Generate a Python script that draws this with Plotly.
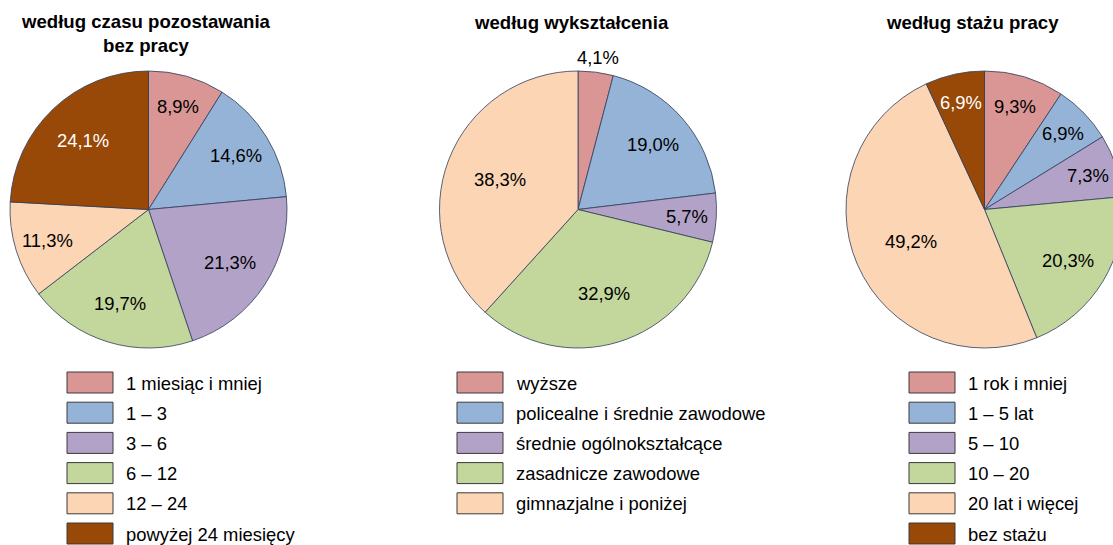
import math
import plotly.graph_objects as go

# ---------------- data ----------------
time_labels = ["1 miesiąc i mniej", "1 – 3", "3 – 6", "6 – 12", "12 – 24", "powyżej 24 miesięcy"]
time_values = [8.9, 14.6, 21.3, 19.7, 11.3, 24.1]

edu_labels = ["wyższe", "policealne i średnie zawodowe", "średnie ogólnokształcące",
              "zasadnicze zawodowe", "gimnazjalne i poniżej"]
edu_values = [4.1, 19.0, 5.7, 32.9, 38.3]

tenure_labels = ["1 rok i mniej", "1 – 5 lat", "5 – 10", "10 – 20", "20 lat i więcej", "bez stażu"]
tenure_values = [9.3, 6.9, 7.3, 20.3, 49.2, 6.9]

titles = ["według czasu pozostawania<br>bez pracy", "według wykształcenia", "według stażu pracy"]

# ---------------- style ----------------
colors = ["#D99694", "#95B3D7", "#B3A2C7", "#C3D69B", "#FCD5B5", "#984807"]
text_colors = ["#000000"] * 5 + ["#FFFFFF"]
FONT = "Arial, 'Liberation Sans', sans-serif"
FS = 18.4
FS_TITLE = 18.6
W, H = 1130, 545
R = 138.5
centers = [(148.5, 209.5), (578.0, 209.5), (984.5, 209.5)]
title_pos = [(146, 33.5), (571, 22), (972, 22)]
legend_x = [67, 457, 909]
SW_W, SW_H, ROW0, ROW_STEP = 46, 21, 372, 30.2


def px(x):
    return x / W


def py(y):
    return 1 - y / H


def fmt(v):
    return f"{v:.1f}".replace(".", ",") + "%"


def label_frac(share):
    if share < 0.05:
        return 1.11
    return min(0.79, max(0.58, 0.83 - 0.6 * share))


fig = go.Figure()
annotations = []
shapes = []

groups = [(time_labels, time_values), (edu_labels, edu_values), (tenure_labels, tenure_values)]

for gi, (labels, values) in enumerate(groups):
    cx, cy = centers[gi]
    n = len(values)
    fig.add_trace(go.Pie(
        labels=labels, values=values, sort=False, direction="clockwise", rotation=0,
        marker=dict(colors=colors[:n], line=dict(color="#2F3E5A", width=0.8)),
        textinfo="none", hoverinfo="label+value", showlegend=False,
        domain=dict(x=[px(cx - R), px(cx + R)], y=[py(cy + R), py(cy - R)]),
    ))
    total = sum(values)
    cum = 0.0
    for i, v in enumerate(values):
        share = v / total
        mid = (cum + share / 2) * 2 * math.pi
        cum += share
        rf = label_frac(share)
        lx = cx + rf * R * math.sin(mid)
        ly = cy - rf * R * math.cos(mid)
        tc = text_colors[i] if rf <= 1 else "#000000"
        annotations.append(dict(
            x=px(lx), y=py(ly), xref="paper", yref="paper", text=fmt(v), showarrow=False,
            xanchor="center", yanchor="middle", font=dict(family=FONT, size=FS, color=tc)))
    # title
    tx, ty = title_pos[gi]
    annotations.append(dict(
        x=px(tx), y=py(ty), xref="paper", yref="paper", text="<b>" + titles[gi] + "</b>",
        showarrow=False, xanchor="center", yanchor="middle", align="center",
        font=dict(family=FONT, size=FS_TITLE, color="#000000")))
    # legend
    lx0 = legend_x[gi]
    for i, lab in enumerate(labels):
        top = ROW0 + i * ROW_STEP
        shapes.append(dict(
            type="rect", xref="paper", yref="paper",
            x0=px(lx0), x1=px(lx0 + SW_W), y0=py(top + SW_H), y1=py(top),
            fillcolor=colors[i], line=dict(color="#3A3A3A", width=1)))
        annotations.append(dict(
            x=px(lx0 + SW_W + 11), y=py(top + SW_H / 2 + 0.5), xref="paper", yref="paper",
            text=lab, showarrow=False, xanchor="left", yanchor="middle",
            font=dict(family=FONT, size=FS, color="#000000")))

fig.update_layout(
    width=W, height=H, autosize=False,
    margin=dict(l=0, r=0, t=0, b=0),
    paper_bgcolor="#FFFFFF", plot_bgcolor="#FFFFFF",
    annotations=annotations, shapes=shapes,
    font=dict(family=FONT, size=FS, color="#000000"),
)

fig.write_html(
    "out.html",
    config={"displayModeBar": False},
    post_script="document.body.style.margin='0';document.body.style.overflow='hidden';"
                "document.documentElement.style.overflow='hidden';",
)
